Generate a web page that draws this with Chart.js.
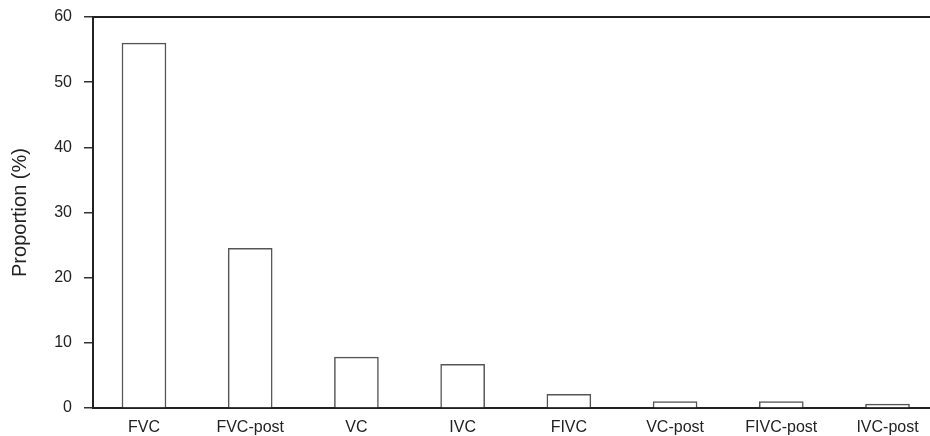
<!DOCTYPE html>
<html>
<head>
<meta charset="utf-8">
<script src="https://cdn.jsdelivr.net/npm/chart.js@4"></script>
<style>
html,body{margin:0;padding:0;background:#fff;}
#wrap{width:930px;height:436px;position:relative;}
</style>
</head>
<body>
<div id="wrap"><canvas id="c" width="930" height="436"></canvas></div>
<script>
const categories = ["FVC", "FVC-post", "VC", "IVC", "FIVC", "VC-post", "FIVC-post", "IVC-post"];
const proportions = [56.0, 24.5, 7.8, 6.7, 2.1, 1.0, 1.0, 0.6];
const yTicks = [0, 10, 20, 30, 40, 50, 60];

const FONT = "'Liberation Sans', Arial, sans-serif";
const TEXT = '#222';

const points = categories.map((c, i) => ({ x: i, y: proportions[i] }));

new Chart(document.getElementById('c'), {
  type: 'bar',
  data: {
    datasets: [{
      data: points,
      backgroundColor: '#ffffff',
      borderColor: '#555555',
      borderWidth: 1.5,
      barThickness: 44
    }]
  },
  options: {
    responsive: false,
    animation: false,
    devicePixelRatio: 1,
    layout: { padding: { top: 17, right: 0, bottom: 0, left: 0 } },
    plugins: { legend: { display: false }, tooltip: { enabled: false } },
    scales: {
      x: {
        type: 'linear',
        position: 'bottom',
        offset: false,
        min: -0.48,
        max: 7.40,
        afterBuildTicks: s => { s.ticks = categories.map((_, i) => ({ value: i })); },
        afterFit: s => { s.height = 28; s.paddingLeft = 0; s.paddingRight = 0; },
        ticks: {
          callback: v => categories[v],
          autoSkip: false,
          maxRotation: 0,
          padding: 2,
          color: TEXT,
          font: { family: FONT, size: 16 }
        },
        grid: { display: false, offset: false },
        border: { display: true, color: '#222', width: 2 }
      },
      x2: {
        type: 'linear',
        position: 'top',
        offset: false,
        min: -0.48,
        max: 7.40,
        afterFit: s => { s.height = 0; s.paddingLeft = 0; s.paddingRight = 0; },
        ticks: { display: false },
        grid: { display: false, offset: false },
        border: { display: true, color: '#222', width: 2 }
      },
      y: {
        min: 0,
        max: 60,
        afterBuildTicks: s => { s.ticks = yTicks.map(v => ({ value: v })); },
        afterFit: s => { s.width = 93; s.paddingTop = 0; s.paddingBottom = 0; },
        ticks: {
          padding: 12,
          color: TEXT,
          font: { family: FONT, size: 16 }
        },
        grid: { drawOnChartArea: false, drawTicks: true, tickLength: 9, color: '#333', lineWidth: 1.5 },
        border: { display: true, color: '#222', width: 2 },
        title: {
          display: true,
          text: 'Proportion (%)',
          color: TEXT,
          font: { family: FONT, size: 20 },
          padding: { top: 8, bottom: 0 }
        }
      }
    }
  }
});
</script>
</body>
</html>
